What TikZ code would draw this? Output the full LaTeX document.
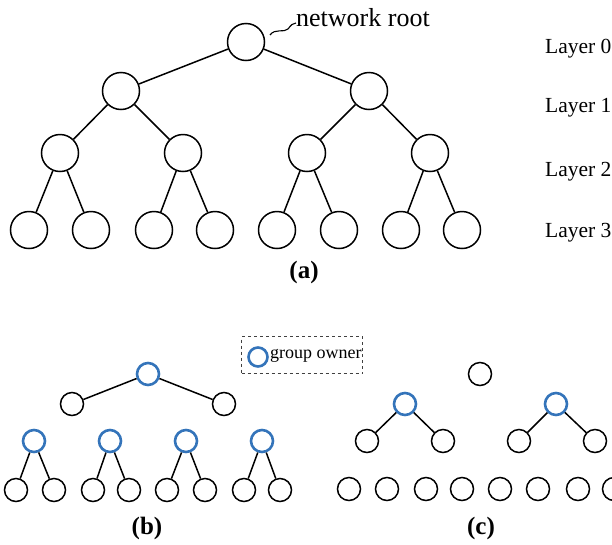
\documentclass[tikz,border=0pt]{standalone}
\usepackage{fontspec}
\setmainfont{Liberation Serif}
\definecolor{ownblue}{RGB}{52,116,186}
\tikzset{
  big/.style={circle,draw=black,line width=1.5pt,minimum size=37pt,inner sep=0pt},
  sm/.style={circle,draw=black,line width=1.5pt,minimum size=23pt,inner sep=0pt},
  own/.style={circle,draw=ownblue,line width=2.6pt,minimum size=22pt,inner sep=0pt},
  link/.style={line width=1.5pt},
  lbl/.style={font=\fontsize{21.5}{24}\selectfont,anchor=west,inner sep=0pt},
  captxt/.style={font=\fontsize{25}{28}\selectfont\bfseries,inner sep=0pt}
}
\begin{document}
\begin{tikzpicture}[x=1pt,y=-1pt]
\useasboundingbox (0,0) rectangle (612,544);
\clip (0,0) rectangle (612,544);

% (a) full tree
\node[big] (r) at (246,42) {};
\node[big] (a1) at (121,91) {};
\node[big] (a2) at (369,91) {};
\foreach \i/\x in {1/60,2/183,3/307,4/430} \node[big] (b\i) at (\x,153) {};
\foreach \i/\x in {1/29,2/91,3/154,4/215,5/277,6/339,7/401,8/462} \node[big] (c\i) at (\x,230) {};
\draw[link] (r) -- (a1) (r) -- (a2)
  (a1) -- (b1) (a1) -- (b2) (a2) -- (b3) (a2) -- (b4)
  (b1) -- (c1) (b1) -- (c2) (b2) -- (c3) (b2) -- (c4)
  (b3) -- (c5) (b3) -- (c6) (b4) -- (c7) (b4) -- (c8);

\node[font=\fontsize{26}{29}\selectfont,anchor=west,inner sep=0pt] (rootlbl) at (296,18) {network root};
\coordinate (sq0) at (270,35);
\coordinate (sq1) at (288,29);
\coordinate (sq2) at (296,23);
\draw[line width=1.1pt] (sq0) .. controls (275,28) and (284,33) .. (sq1) .. controls (291,25) and (293,23) .. (sq2);

\node[lbl] (l0) at (545,49) {Layer 0};
\node[lbl] (l1) at (545,108) {Layer 1};
\node[lbl] (l2) at (545,172) {Layer 2};
\node[lbl] (l3) at (545,233) {Layer 3};
\node[captxt] (capa) at (304,272) {(a)};

% legend
\node[draw=black!75,dashed,line width=0.9pt,minimum width=121pt,minimum height=37pt] (leg) at (302,355) {};
\node[own,minimum size=19pt] (legc) at (258,357) {};
\node[font=\fontsize{18}{21}\selectfont,anchor=west,inner sep=0pt] (legt) at (270,356) {group owner};

% (b) grouped tree
\node[own] (p0) at (148,374) {};
\node[sm] (p1) at (72,404) {};
\node[sm] (p2) at (224,404) {};
\foreach \i/\x in {1/34,2/110,3/186,4/262} \node[own] (q\i) at (\x,441) {};
\foreach \i/\x in {1/16,2/54,3/93,4/129,5/167,6/205,7/244,8/280} \node[sm] (s\i) at (\x,490) {};
\draw[link] (p0) -- (p1) (p0) -- (p2)
  (q1) -- (s1) (q1) -- (s2) (q2) -- (s3) (q2) -- (s4)
  (q3) -- (s5) (q3) -- (s6) (q4) -- (s7) (q4) -- (s8);
\node[captxt] (capb) at (147,528) {(b)};

% (c) partial groups
\node[sm] (u0) at (480,374) {};
\node[own] (v1) at (405,404) {};
\node[own] (v2) at (556,404) {};
\foreach \i/\x in {1/367,2/443,3/519,4/595} \node[sm] (w\i) at (\x,441) {};
\foreach \i/\x in {1/349,2/387,3/426,4/462,5/500,6/538,7/578,8/614} \node[sm] (z\i) at (\x,489) {};
\draw[link] (v1) -- (w1) (v1) -- (w2) (v2) -- (w3) (v2) -- (w4);
\node[captxt] (capc) at (481,528) {(c)};
\end{tikzpicture}
\end{document}
